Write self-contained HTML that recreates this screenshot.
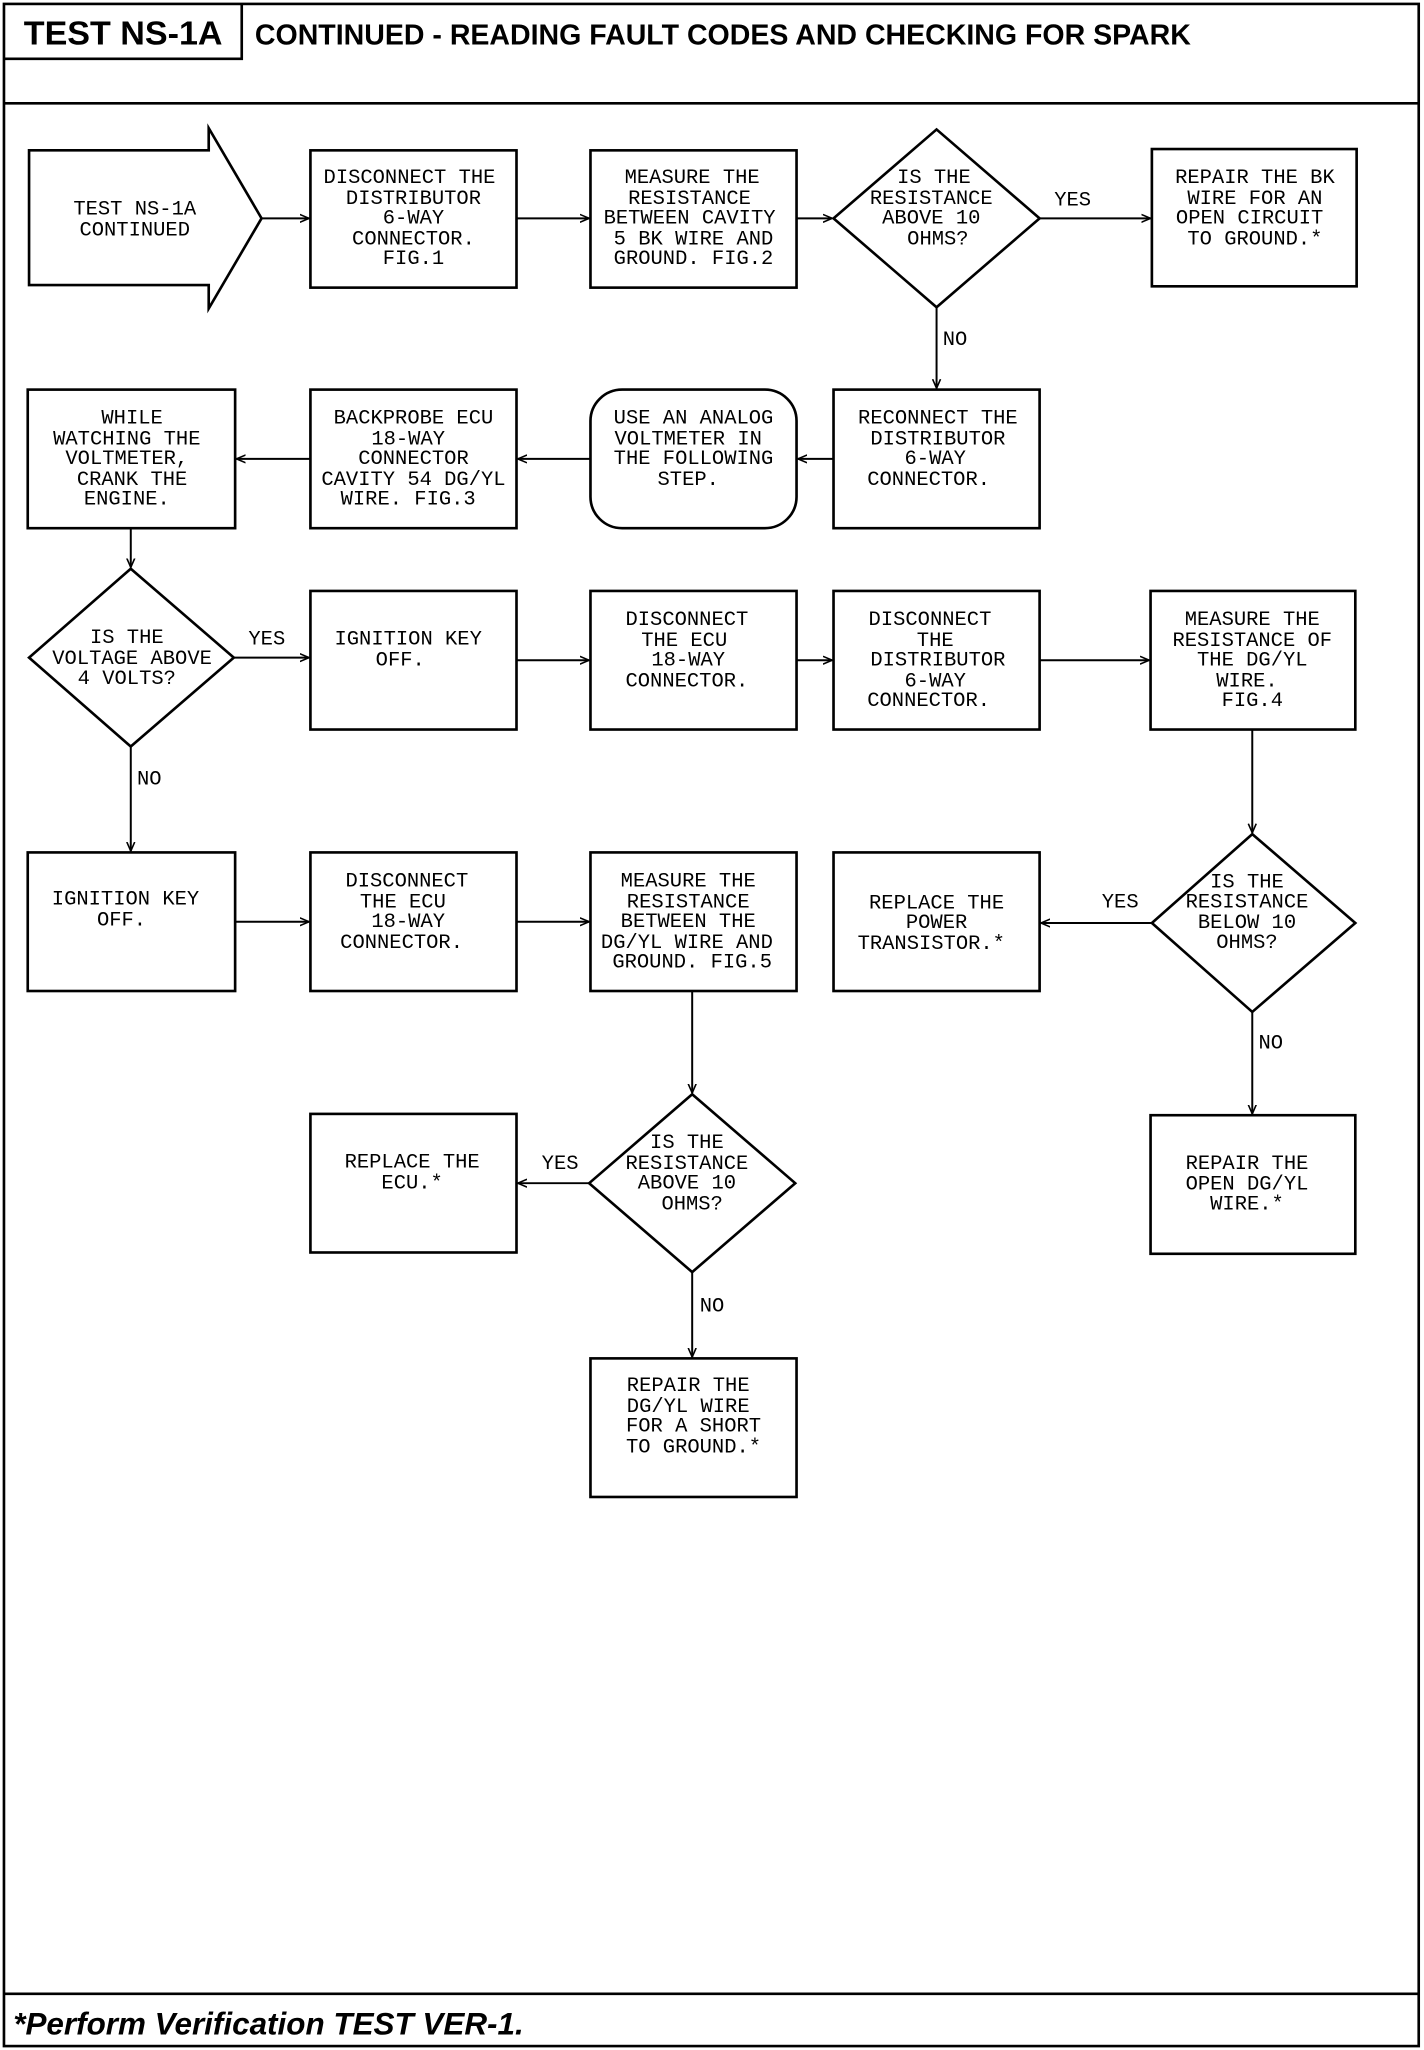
<!DOCTYPE html>
<html><head><meta charset="utf-8"><style>
html,body{margin:0;padding:0;background:#fff;}
svg{display:block;}
.t{font-family:"Liberation Mono",monospace;font-size:15.5px;fill:#000;text-anchor:middle;}
.h{font-family:"Liberation Sans",sans-serif;font-weight:bold;fill:#000;}
</style></head><body>
<svg width="1424" height="2050" viewBox="0 0 1078 1568" preserveAspectRatio="none" xmlns="http://www.w3.org/2000/svg">
<defs><marker id="a" markerWidth="8" markerHeight="8" refX="7" refY="4" orient="auto" markerUnits="userSpaceOnUse"><path d="M0,1 L7,4 L0,7" fill="none" stroke="#000" stroke-width="1.2"/></marker></defs>
<g fill="none" stroke="#000" stroke-width="2">
<rect x="3" y="3" width="1071" height="1562"/>
<line x1="3" y1="79" x2="1074" y2="79"/>
<polyline points="3,45 183,45 183,3"/>
<line x1="3" y1="1525" x2="1074" y2="1525"/>
<polygon points="22,115 158,115 158,98 198,167 158,236 158,218 22,218"/>
<rect x="235" y="115" width="156" height="105"/>
<rect x="447" y="115" width="156" height="105"/>
<polygon points="709,99 787,167 709,235 631,167"/>
<rect x="872" y="114" width="155" height="105"/>
<rect x="21" y="298" width="157" height="106"/>
<rect x="235" y="298" width="156" height="106"/>
<rect x="447" y="298" width="156" height="106" rx="24"/>
<rect x="631" y="298" width="156" height="106"/>
<polygon points="99,435 177,503 99,571 22,503"/>
<rect x="235" y="452" width="156" height="106"/>
<rect x="447" y="452" width="156" height="106"/>
<rect x="631" y="452" width="156" height="106"/>
<rect x="871" y="452" width="155" height="106"/>
<rect x="21" y="652" width="157" height="106"/>
<rect x="235" y="652" width="156" height="106"/>
<rect x="447" y="652" width="156" height="106"/>
<rect x="631" y="652" width="156" height="106"/>
<polygon points="948,638 1026,706 948,774 872,706"/>
<rect x="235" y="852" width="156" height="106"/>
<polygon points="524,837 602,905 524,973 446,905"/>
<rect x="871" y="853" width="155" height="106"/>
<rect x="447" y="1039" width="156" height="106"/>
</g>
<g stroke="#000" stroke-width="1.5" fill="none" marker-end="url(#a)">
<line x1="198" y1="167" x2="234" y2="167"/>
<line x1="391" y1="167" x2="446" y2="167"/>
<line x1="603" y1="167" x2="630" y2="167"/>
<line x1="787" y1="167" x2="871" y2="167"/>
<line x1="709" y1="235" x2="709" y2="297"/>
<line x1="631" y1="351" x2="604" y2="351"/>
<line x1="447" y1="351" x2="392" y2="351"/>
<line x1="235" y1="351" x2="179" y2="351"/>
<line x1="99" y1="404" x2="99" y2="434"/>
<line x1="177" y1="503" x2="234" y2="503"/>
<line x1="391" y1="505" x2="446" y2="505"/>
<line x1="603" y1="505" x2="630" y2="505"/>
<line x1="787" y1="505" x2="870" y2="505"/>
<line x1="948" y1="558" x2="948" y2="637"/>
<line x1="99" y1="571" x2="99" y2="651"/>
<line x1="178" y1="705" x2="234" y2="705"/>
<line x1="391" y1="705" x2="446" y2="705"/>
<line x1="872" y1="706" x2="788" y2="706"/>
<line x1="948" y1="774" x2="948" y2="852"/>
<line x1="524" y1="758" x2="524" y2="836"/>
<line x1="446" y1="905" x2="392" y2="905"/>
<line x1="524" y1="973" x2="524" y2="1038"/>
</g>
<text class="h" x="18" y="34" font-size="25.8">TEST NS-1A</text>
<text class="h" x="193" y="34" font-size="21.6">CONTINUED - READING FAULT CODES AND CHECKING FOR SPARK</text>
<text class="h" x="10" y="1556" font-size="23.8" font-style="italic">*Perform Verification TEST VER-1.</text>
<g class="t">
<text x="102" y="164">TEST NS-1A</text><text x="102" y="180">CONTINUED</text>
<text x="310" y="140">DISCONNECT THE</text><text x="313" y="156">DISTRIBUTOR</text><text x="313" y="171">6-WAY</text><text x="313" y="187">CONNECTOR.</text><text x="313" y="202">FIG.1</text>
<text x="524" y="140">MEASURE THE</text><text x="522" y="156">RESISTANCE</text><text x="522" y="171">BETWEEN CAVITY</text><text x="525" y="187">5 BK WIRE AND</text><text x="525" y="202">GROUND. FIG.2</text>
<text x="707" y="140">IS THE</text><text x="705" y="156">RESISTANCE</text><text x="705" y="171">ABOVE 10</text><text x="710" y="187">OHMS?</text>
<text x="950" y="140">REPAIR THE BK</text><text x="950" y="156">WIRE FOR AN</text><text x="946" y="171">OPEN CIRCUIT</text><text x="950" y="187">TO GROUND.*</text>
<text x="812" y="157">YES</text><text x="723" y="264">NO</text>
<text x="100" y="324">WHILE</text><text x="96" y="340">WATCHING THE</text><text x="96" y="355">VOLTMETER,</text><text x="100" y="371">CRANK THE</text><text x="96" y="386">ENGINE.</text>
<text x="313" y="324">BACKPROBE ECU</text><text x="309" y="340">18-WAY</text><text x="313" y="355">CONNECTOR</text><text x="313" y="371">CAVITY 54 DG/YL</text><text x="309" y="386">WIRE. FIG.3</text>
<text x="525" y="324">USE AN ANALOG</text><text x="521" y="340">VOLTMETER IN</text><text x="525" y="355">THE FOLLOWING</text><text x="521" y="371">STEP.</text>
<text x="710" y="324">RECONNECT THE</text><text x="710" y="340">DISTRIBUTOR</text><text x="708" y="355">6-WAY</text><text x="703" y="371">CONNECTOR.</text>
<text x="96" y="492">IS THE</text><text x="100" y="508">VOLTAGE ABOVE</text><text x="96" y="523">4 VOLTS?</text>
<text x="202" y="493">YES</text><text x="113" y="600">NO</text>
<text x="309" y="493">IGNITION KEY</text><text x="303" y="509">OFF.</text>
<text x="520" y="478">DISCONNECT</text><text x="518" y="494">THE ECU</text><text x="521" y="509">18-WAY</text><text x="520" y="525">CONNECTOR.</text>
<text x="704" y="478">DISCONNECT</text><text x="708" y="494">THE</text><text x="710" y="509">DISTRIBUTOR</text><text x="708" y="525">6-WAY</text><text x="703" y="540">CONNECTOR.</text>
<text x="948" y="478">MEASURE THE</text><text x="948" y="494">RESISTANCE OF</text><text x="948" y="509">THE DG/YL</text><text x="944" y="525">WIRE.</text><text x="948" y="540">FIG.4</text>
<text x="95" y="692">IGNITION KEY</text><text x="92" y="708">OFF.</text>
<text x="308" y="678">DISCONNECT</text><text x="305" y="694">THE ECU</text><text x="309" y="709">18-WAY</text><text x="304" y="725">CONNECTOR.</text>
<text x="521" y="678">MEASURE THE</text><text x="521" y="694">RESISTANCE</text><text x="521" y="709">BETWEEN THE</text><text x="520" y="725">DG/YL WIRE AND</text><text x="524" y="740">GROUND. FIG.5</text>
<text x="709" y="695">REPLACE THE</text><text x="709" y="710">POWER</text><text x="705" y="726">TRANSISTOR.*</text>
<text x="944" y="679">IS THE</text><text x="944" y="694">RESISTANCE</text><text x="944" y="710">BELOW 10</text><text x="944" y="725">OHMS?</text>
<text x="848" y="694">YES</text><text x="962" y="802">NO</text>
<text x="312" y="893">REPLACE THE</text><text x="312" y="909">ECU.*</text>
<text x="424" y="894">YES</text><text x="539" y="1003">NO</text>
<text x="520" y="878">IS THE</text><text x="520" y="894">RESISTANCE</text><text x="520" y="909">ABOVE 10</text><text x="524" y="925">OHMS?</text>
<text x="944" y="894">REPAIR THE</text><text x="944" y="910">OPEN DG/YL</text><text x="944" y="925">WIRE.*</text>
<text x="521" y="1064">REPAIR THE</text><text x="521" y="1080">DG/YL WIRE</text><text x="525" y="1095">FOR A SHORT</text><text x="525" y="1111">TO GROUND.*</text>
</g>
</svg>
</body></html>
